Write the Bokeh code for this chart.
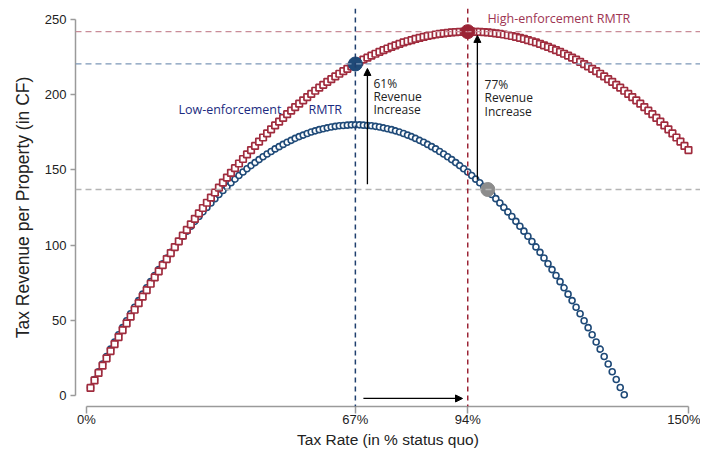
from bokeh.plotting import figure
from bokeh.models import (Span, Arrow, NormalHead, FixedTicker, Range1d,
                          ColumnDataSource)
from bokeh.core.properties import value
from bokeh.embed import file_html
from bokeh.resources import INLINE

# ---------------- data ----------------
low_x = list(range(1, 135))
low_y = [5.3, 10.6, 15.8, 20.9, 25.9, 30.8, 35.6, 40.4, 45.1, 49.7,
         54.3, 58.7, 63.1, 67.4, 71.6, 75.7, 79.8, 83.7, 87.6, 91.4,
         95.2, 98.8, 102.4, 105.9, 109.3, 112.6, 115.8, 119.0, 122.1, 125.1,
         128.0, 130.9, 133.7, 136.3, 138.9, 141.5, 143.9, 146.3, 148.6, 150.8,
         152.9, 154.9, 156.9, 158.8, 160.6, 162.3, 164.0, 165.5, 167.0, 168.4,
         169.7, 171.0, 172.2, 173.2, 174.2, 175.2, 176.0, 176.8, 177.4, 178.0,
         178.6, 179.0, 179.4, 179.6, 179.8, 180.0, 180.0,
         180.0, 179.8, 179.6, 179.4, 179.0, 178.6, 178.0, 177.4, 176.8, 176.0,
         175.2, 174.2, 173.2, 172.2, 171.0, 169.7, 168.4, 167.0, 165.5, 164.0,
         162.3, 160.6, 158.8, 156.9, 154.9, 152.9, 150.8, 148.6, 146.3, 143.9,
         141.5, 138.9, 136.3, 133.7, 130.9, 128.0, 125.1, 122.1, 119.0, 115.8,
         112.6, 109.3, 105.9, 102.4, 98.8, 95.2, 91.4, 87.6, 83.7, 79.8,
         75.7, 71.6, 67.4, 63.1, 58.7, 54.3, 49.7, 45.1, 40.4, 35.6,
         30.8, 25.9, 20.9, 15.8, 10.6, 5.3, 0.5]

high_x = list(range(1, 151))
high_y = [5.0, 10.0, 15.0, 19.8, 24.7, 29.5, 34.2, 38.8, 43.5, 48.0,
          52.5, 57.0, 61.4, 65.8, 70.0, 74.3, 78.5, 82.6, 86.7, 90.7,
          94.7, 98.7, 102.5, 106.3, 110.1, 113.8, 117.5, 121.1, 124.7, 128.2,
          131.6, 135.0, 138.3, 141.6, 144.9, 148.1, 151.2, 154.3, 157.3, 160.3,
          163.2, 166.0, 168.9, 171.6, 174.3, 177.0, 179.6, 182.1, 184.6, 187.1,
          189.4, 191.8, 194.1, 196.3, 198.5, 200.6, 202.7, 204.7, 206.6, 208.6,
          210.4, 212.2, 214.0, 215.7, 217.3, 218.9, 220.4, 221.9, 223.4, 224.7,
          226.1, 227.3, 228.6, 229.7, 230.8, 231.9, 232.9, 233.9, 234.8, 235.6,
          236.4, 237.2, 237.9, 238.5, 239.1, 239.6, 240.1, 240.5, 240.9, 241.2,
          241.5, 241.7, 241.8, 241.9, 242.0, 242.0, 241.9, 241.8, 241.7, 241.5,
          241.2, 240.9, 240.5, 240.1, 239.6, 239.1, 238.5, 237.9, 237.2, 236.4,
          235.6, 234.8, 233.9, 232.9, 231.9, 230.8, 229.7, 228.6, 227.3, 226.1,
          224.7, 223.4, 221.9, 220.4, 218.9, 217.3, 215.7, 214.0, 212.2, 210.4,
          208.6, 206.6, 204.7, 202.7, 200.6, 198.5, 196.3, 194.1, 191.8, 189.4,
          187.1, 184.6, 182.1, 179.6, 177.0, 174.3, 171.6, 168.9, 166.0, 163.2]

# highlighted points: low-enforcement optimum, high-enforcement optimum, status quo
opt_low = (67, 220.5)
opt_high = (95, 242.0)
status_quo = (100, 137.0)

x_ticks = [0, 67, 95, 150]
x_tick_labels = ["0%", "67%", "94%", "150%"]
y_ticks = [0, 50, 100, 150, 200, 250]

BLUE = "#1f4a78"
RED = "#a02c3e"
GRAY = "#8c8c8c"

p = figure(width=700, height=450,
           x_range=Range1d(-2.74, 153.0), y_range=Range1d(-7.35, 257.4),
           output_backend="svg", toolbar_location=None,
           min_border_left=75, min_border_right=0,
           min_border_top=8, min_border_bottom=40)
p.xgrid.visible = False
p.ygrid.visible = False
p.outline_line_color = None
p.background_fill_color = "white"

# reference lines
p.add_layout(Span(location=opt_high[1], dimension="width", line_color="#c98d99",
                  line_dash="6 4", line_width=1.3))
p.add_layout(Span(location=opt_low[1], dimension="width", line_color="#7d98b8",
                  line_dash="6 4", line_width=1.3))
p.add_layout(Span(location=status_quo[1], dimension="width", line_color="#b4b4b4",
                  line_dash="6 4", line_width=1.3))
p.add_layout(Span(location=opt_low[0], dimension="height", line_color="#1f3f6e",
                  line_dash="5 4", line_width=1.5))
p.add_layout(Span(location=opt_high[0], dimension="height", line_color="#9b2335",
                  line_dash="5 4", line_width=1.5))

# curves
p.scatter(low_x, low_y, marker="circle", size=6, fill_color="white",
          line_color=BLUE, line_width=1.6)
p.scatter(high_x, high_y, marker="square", size=6.5, fill_color="white",
          line_color=RED, line_width=1.7)

# highlighted points
p.scatter([opt_low[0]], [opt_low[1]], marker="circle", size=14,
          fill_color=BLUE, line_color=BLUE)
p.scatter([opt_high[0]], [opt_high[1]], marker="circle", size=14,
          fill_color="#9b2335", line_color="#9b2335")
p.scatter([status_quo[0]], [status_quo[1]], marker="circle", size=14,
          fill_color=GRAY, line_color=GRAY)

# arrows
def arrow(x0, y0, x1, y1):
    p.add_layout(Arrow(end=NormalHead(size=7, fill_color="black", line_color="black"),
                       x_start=x0, y_start=y0, x_end=x1, y_end=y1,
                       line_color="black", line_width=1.3))

arrow(70.0, 140.5, 70.0, 217.5)
arrow(97.4, 143.5, 97.4, 239.5)
arrow(69.0, -2.0, 93.7, -2.0)

# annotations
ann = ColumnDataSource(dict(
    x=[71.5, 71.5, 71.5, 99.2, 99.2, 99.2],
    y=[207.2, 198.9, 190.5, 206.6, 197.9, 189.2],
    t=["61%", "Revenue", "Increase", "77%", "Revenue", "Increase"]))
p.text(x="x", y="y", text="t", source=ann, text_font=value("Open Sans"),
       text_font_size="12px", text_color="#222222", text_baseline="middle",
       text_align="left")

p.text(x=[22.9, 55.3], y=[190.5, 190.5], text=["Low-enforcement", "RMTR"],
       text_font=value("Open Sans"), text_font_size="12.5px", text_color="#1c2b80",
       text_baseline="middle", text_align="left")
p.text(x=[99.9], y=[250.8], text=["High-enforcement RMTR"],
       text_font=value("Open Sans"), text_font_size="12.5px", text_color="#9e3552",
       text_baseline="middle", text_align="left")

# axes
for ax in (p.xaxis[0], p.yaxis[0]):
    ax.axis_line_color = "#9a9a9a"
    ax.axis_line_width = 1.5
    ax.major_tick_line_color = "#9a9a9a"
    ax.major_tick_line_width = 1.5
    ax.minor_tick_line_color = None
    ax.major_tick_in = 0
    ax.major_label_text_font = "Liberation Sans"
    ax.major_label_text_font_size = "13px"
    ax.major_label_text_color = "#222222"
    ax.axis_label_text_font = "Liberation Sans"
    ax.axis_label_text_font_style = "normal"
    ax.axis_label_text_color = "#222222"

xa = p.xaxis[0]
xa.bounds = (0, 150)
xa.ticker = FixedTicker(ticks=x_ticks)
xa.major_label_overrides = {t: l for t, l in zip(x_ticks, x_tick_labels)}
xa.major_tick_out = 7
xa.major_label_standoff = -2
xa.axis_label = "Tax Rate (in % status quo)"
xa.axis_label_text_font_size = "15.5px"
xa.axis_label_standoff = 1

ya = p.yaxis[0]
ya.bounds = (0, 250)
ya.ticker = FixedTicker(ticks=y_ticks)
ya.major_tick_out = 5
ya.major_label_standoff = 4
ya.axis_label = "Tax Revenue per Property (in CF)"
ya.axis_label_text_font_size = "17.5px"
ya.axis_label_standoff = 9

open("out.html", "w").write(file_html(p, INLINE))
